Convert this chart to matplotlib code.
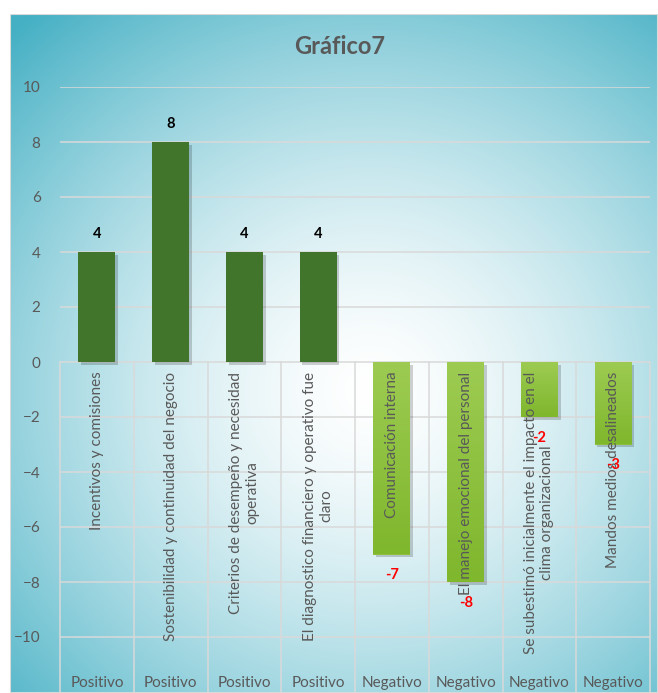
import numpy as np
import matplotlib
matplotlib.use("Agg")
import matplotlib.pyplot as plt
import matplotlib.patheffects as pe
from matplotlib.colors import LinearSegmentedColormap

plt.rcParams['font.family'] = ['Lato', 'DejaVu Sans']

categories = ["Incentivos y comisiones",
              "Sostenibilidad y continuidad del negocio",
              "Criterios de desempeño y necesidad\noperativa",
              "El diagnostico financiero y operativo fue\nclaro",
              "Comunicación interna",
              "El manejo emocional del personal",
              "Se subestimó inicialmente el impacto en el\nclima organizacional",
              "Mandos medios desalineados"]
groups = ["Positivo"] * 4 + ["Negativo"] * 4
values = [4, 8, 4, 4, -7, -8, -2, -3]
yticks = [-10, -8, -6, -4, -2, 0, 2, 4, 6, 8, 10]

W, H = 658, 693
fig = plt.figure(figsize=(W / 100, H / 100), dpi=100)

# radial gradient background of the chart area
bg = fig.add_axes([10 / W, 0, 1 - 10 / W, 1 - 14 / H])
yy, xx = np.mgrid[14:H, 10:W]
r = np.hypot(xx - 370, (yy - 390) * 1.05)
t = np.clip(r / 520, 0, 1) ** 1.5
teal = np.array([0x45, 0xb0, 0xc4]) / 255
img = (1 - t)[..., None] * np.ones(3) + t[..., None] * teal
bg.imshow(img, aspect="auto", extent=[0, 1, 0, 1])
bg.set_axis_off()
bg.add_patch(plt.Rectangle((0, 0), 1, 1, transform=bg.transAxes, fill=False,
                           edgecolor="#d9d9d9", lw=1.5))

ppu = 27.5
ymin = -10 - (H - 637) / ppu
ax = fig.add_axes([60 / W, 0, 590 / W, (H - 87) / H])
ax.set_facecolor("none")
ax.set_xlim(0, 8)
ax.set_ylim(ymin, 10)

grid_c = "#d9d9d9"
for v in yticks:
    ax.axhline(v, color=grid_c, lw=1.1, zorder=1)
for i in range(9):
    ax.plot([i, i], [0, ymin], color=grid_c, lw=1.1, zorder=1, clip_on=False)

x = np.arange(8) + 0.5
colors = ["#41752b" if v > 0 else "#8cc03a" for v in values]
bars = ax.bar(x, values, width=0.5, color=colors, zorder=2)
shadow = [pe.SimplePatchShadow(offset=(2, -2), shadow_rgbFace="k", alpha=0.18), pe.Normal()]
light = LinearSegmentedColormap.from_list("lg", ["#9dcb52", "#7fb72d"])
grad = np.linspace(0, 1, 64).reshape(-1, 1)
for b, v in zip(bars, values):
    b.set_path_effects(shadow)
    if v < 0:
        x0 = b.get_x()
        im = ax.imshow(grad, cmap=light, aspect="auto", zorder=2.1,
                       extent=[x0, x0 + b.get_width(), v, 0], origin="upper")
        im.set_clip_path(b)
ax.set_xlim(0, 8)
ax.set_ylim(ymin, 10)

for xi, lab, g in zip(x, categories, groups):
    ax.text(xi, -0.35, lab, rotation=90, ha="center", va="top",
            multialignment="center", fontsize=11, color="#595959", zorder=3)
    ax.text(xi, ymin + 3 / ppu, g, ha="center", va="bottom",
            fontsize=11, color="#595959", zorder=3)

for xi, v in zip(x, values):
    if v > 0:
        ax.annotate(str(v), (xi, v), xytext=(0, 8), textcoords="offset points",
                    ha="center", va="bottom", fontsize=10.5, fontweight="bold",
                    color="black", zorder=4)
    else:
        ax.annotate(str(v), (xi, v), xytext=(0, -15), textcoords="offset points",
                    ha="center", va="center", fontsize=10.5, fontweight="bold",
                    color="red", zorder=4)

ax.set_yticks(yticks)
ax.set_xticks([])
ax.tick_params(axis="y", length=0, pad=14, labelsize=11, labelcolor="#595959")
for s in ax.spines.values():
    s.set_visible(False)

fig.text(340 / W, 1 - 46 / H, "Gráfico7", ha="center", va="center",
         fontsize=17, fontweight="bold", color="#595959")

fig.savefig("out.png", dpi=100)
